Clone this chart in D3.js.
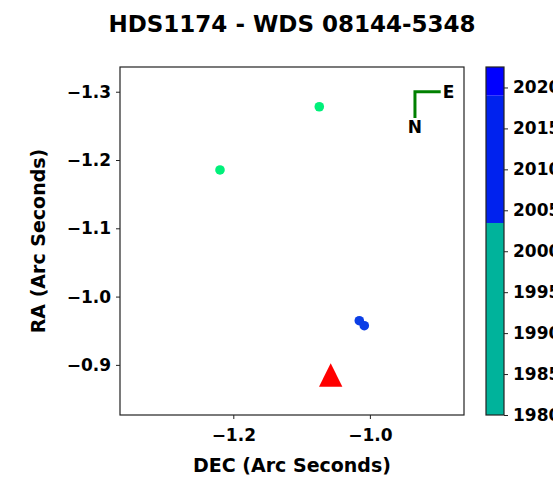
<!DOCTYPE html>
<html>
<head>
	<meta charset='utf-8'>
	<script src="https://cdnjs.cloudflare.com/ajax/libs/d3/7.8.5/d3.min.js"></script>
	<style>
	body {
		margin:0;
		background:#fff;
		overflow:hidden;
	}
	text {
		font-family:'DejaVu Sans', sans-serif;
		font-weight:bold;
	}
	</style>
</head>
<body>
	<script>

	// observations (DEC, RA in arc seconds)
	var obsDec = [-1.0741, -1.2195, -1.0155, -1.0082],
		obsRa = [-1.278, -1.1854, -0.9647, -0.9574],
		obsColor = ['#00f07a', '#00f07a', '#0b3ee6', '#0b3ee6'];

	// predicted position (red triangle)
	var predDec = [-1.0574],
		predRa = [-0.8852];

	var xTicks = [-1.2, -1.0],
		yTicks = [-1.3, -1.2, -1.1, -1.0, -0.9],
		cbTicks = [1980, 1985, 1990, 1995, 2000, 2005, 2010, 2015, 2020];

	// colorbar segments (year from, year to, colour)
	var cbFrom = [1980, 2003.45, 2019.0],
		cbTo = [2003.45, 2019.0, 2022.5],
		cbColors = ['#00b39b', '#0022ee', '#0000ff'];

	var width = 553, height = 479;
	var plot = {left:120, top:67, right:464, bottom:415};
	var cb = {left:486, right:504};

	var svg = d3.select('body').append('svg').attr('width', width).attr('height', height);

	var x = d3.scaleLinear().domain([-1.3659, -0.8622]).range([plot.left, plot.right]);
	var y = d3.scaleLinear().domain([-1.3362, -0.8266]).range([plot.top, plot.bottom]);
	var yc = d3.scaleLinear().domain([1980, 2022.5]).range([plot.bottom, plot.top]);

	// title
	svg.append('text').attr('x', 292).attr('y', 32).attr('text-anchor', 'middle')
		.style('font-size', '23px').text('HDS1174 - WDS 08144-5348');

	// axes
	var fmt = function (d) { return d3.format('.1f')(d).replace('-', '\u2212'); };

	var xAxis = svg.append('g').attr('transform', 'translate(0,' + plot.bottom + ')')
		.call(d3.axisBottom(x).tickValues(xTicks).tickFormat(fmt).tickSize(4).tickPadding(5));
	var yAxis = svg.append('g').attr('transform', 'translate(' + plot.left + ',0)')
		.call(d3.axisLeft(y).tickValues(yTicks).tickFormat(fmt).tickSize(4).tickPadding(5));

	[xAxis, yAxis].forEach(function (a) {
		a.select('.domain').remove();
		a.selectAll('text').style('font-size', '17px').attr('fill', '#000');
		a.selectAll('line').attr('stroke', '#222');
	});
	xAxis.selectAll('text').attr('dy', '1em');

	svg.append('rect').attr('x', plot.left).attr('y', plot.top)
		.attr('width', plot.right - plot.left).attr('height', plot.bottom - plot.top)
		.attr('fill', 'none').attr('stroke', '#222').attr('stroke-width', 1.2);

	svg.append('text').attr('x', (plot.left + plot.right) / 2).attr('y', 472)
		.attr('text-anchor', 'middle').style('font-size', '19px').text('DEC (Arc Seconds)');
	svg.append('text').attr('transform', 'translate(45,' + ((plot.top + plot.bottom) / 2) + ') rotate(-90)')
		.attr('text-anchor', 'middle').style('font-size', '19px').text('RA (Arc Seconds)');

	// compass
	var compassDec = -0.934, compassRa = -1.3, armDec = -0.8963, armRa = -1.2615;
	svg.append('path')
		.attr('d', 'M' + x(armDec) + ',' + y(compassRa) + 'H' + x(compassDec) + 'V' + y(armRa))
		.attr('fill', 'none').attr('stroke', '#008000').attr('stroke-width', 3);
	svg.append('text').attr('x', x(armDec) + 2).attr('y', y(compassRa) + 6)
		.style('font-size', '17px').text('E');
	svg.append('text').attr('x', x(compassDec)).attr('y', y(armRa) + 15)
		.attr('text-anchor', 'middle').style('font-size', '17px').text('N');

	// points
	svg.selectAll('circle.obs').data(obsDec).enter().append('circle')
		.attr('class', 'obs')
		.attr('cx', function (d) { return x(d); })
		.attr('cy', function (d, i) { return y(obsRa[i]); })
		.attr('r', 4.8)
		.attr('fill', function (d, i) { return obsColor[i]; });

	svg.selectAll('path.pred').data(predDec).enter().append('path')
		.attr('class', 'pred')
		.attr('transform', function (d, i) { return 'translate(' + x(d) + ',' + y(predRa[i]) + ')'; })
		.attr('d', 'M0,-11.7L11.7,11.7L-11.7,11.7Z')
		.attr('fill', '#ff0000');

	// colorbar
	svg.selectAll('rect.cb').data(cbFrom).enter().append('rect')
		.attr('class', 'cb')
		.attr('x', cb.left).attr('width', cb.right - cb.left)
		.attr('y', function (d, i) { return yc(cbTo[i]); })
		.attr('height', function (d, i) { return yc(d) - yc(cbTo[i]); })
		.attr('fill', function (d, i) { return cbColors[i]; });
	svg.append('rect').attr('x', cb.left).attr('y', plot.top)
		.attr('width', cb.right - cb.left).attr('height', plot.bottom - plot.top)
		.attr('fill', 'none').attr('stroke', '#222').attr('stroke-width', 1.2);

	var cbAxis = svg.append('g').attr('transform', 'translate(' + cb.right + ',0)')
		.call(d3.axisRight(yc).tickValues(cbTicks).tickFormat(d3.format('d')).tickSize(4).tickPadding(5));
	cbAxis.select('.domain').remove();
	cbAxis.selectAll('text').style('font-size', '17px').attr('fill', '#000');
	cbAxis.selectAll('line').attr('stroke', '#222');

	</script>
</body>
</html>
